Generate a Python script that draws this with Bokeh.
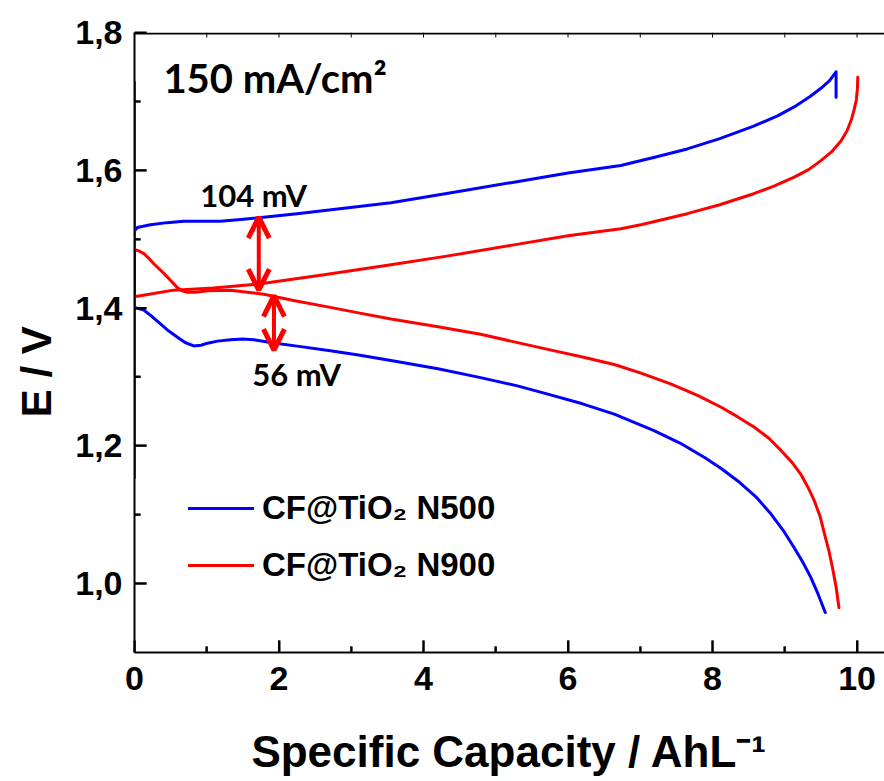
from bokeh.plotting import figure
from bokeh.models import (Range1d, FixedTicker, CustomJSTickFormatter,
                          Label, Legend, LegendItem, Arrow, OpenHead, ColumnDataSource)
from bokeh.embed import file_html
from bokeh.resources import INLINE

# ---------------- data ----------------
n500_charge_x = [0, 0, 0.04, 0.22, 0.45, 0.68, 1.0, 1.19, 1.51, 1.72, 2.25, 2.9, 3.55, 4.3, 5.21,
                 6.0, 6.73, 7.2, 7.65, 8.1, 8.57, 8.9, 9.13, 9.35, 9.50, 9.62, 9.71, 9.71]
n500_charge_y = [1.401, 1.512, 1.517, 1.521, 1.524, 1.526, 1.526, 1.526, 1.529, 1.531, 1.537, 1.545,
                 1.553, 1.566, 1.582, 1.596, 1.607, 1.619, 1.631, 1.646, 1.664, 1.679, 1.692, 1.707,
                 1.719, 1.730, 1.743, 1.706]
n500_dis_x = [0, 0.13, 0.25, 0.36, 0.47, 0.59, 0.70, 0.82, 0.92, 1.01, 1.15, 1.33, 1.50, 1.65, 1.88,
              2.3, 2.71, 3.1, 3.55, 4.2, 4.79, 5.3, 5.72, 6.2, 6.64, 7.19, 7.55, 7.89, 8.12, 8.35,
              8.6, 8.81, 8.98, 9.13, 9.25, 9.36, 9.46, 9.56]
n500_dis_y = [1.401, 1.397, 1.387, 1.377, 1.367, 1.358, 1.350, 1.345, 1.346, 1.349, 1.352, 1.354,
              1.355, 1.354, 1.350, 1.344, 1.338, 1.332, 1.324, 1.312, 1.299, 1.287, 1.275, 1.261,
              1.246, 1.222, 1.204, 1.183, 1.167, 1.149, 1.126, 1.101, 1.077, 1.052, 1.031, 1.009,
              0.985, 0.958]
n900_charge_x = [0, 0, 0.04, 0.54, 1.09, 1.72, 2.6, 3.55, 4.3, 5.21, 6.0, 6.73, 7.01, 7.65, 8.1,
                 8.57, 8.85, 9.13, 9.33, 9.50, 9.65, 9.78, 9.86, 9.92, 9.96, 9.99, 10.005, 10.01]
n900_charge_y = [1.154, 1.417, 1.417, 1.426, 1.429, 1.435, 1.448, 1.463, 1.475, 1.491, 1.505, 1.515,
                 1.521, 1.537, 1.550, 1.566, 1.577, 1.590, 1.601, 1.614, 1.627, 1.643, 1.657, 1.673,
                 1.688, 1.702, 1.718, 1.735]
n900_dis_x = [0, 0, 0.06, 0.13, 0.20, 0.27, 0.41, 0.50, 0.59, 0.66, 0.73, 0.85, 1.01, 1.33, 1.79,
              2.2, 2.71, 3.1, 3.55, 4.2, 4.79, 5.21, 5.72, 6.2, 6.64, 7.0, 7.42, 7.8, 8.12, 8.35,
              8.58, 8.78, 8.95, 9.10, 9.22, 9.32, 9.41, 9.49, 9.55, 9.61, 9.66, 9.71, 9.75]
n900_dis_y = [1.728, 1.485, 1.483, 1.479, 1.472, 1.464, 1.450, 1.440, 1.430, 1.425, 1.423, 1.423,
              1.425, 1.426, 1.420, 1.411, 1.401, 1.393, 1.384, 1.373, 1.362, 1.352, 1.340, 1.329,
              1.318, 1.306, 1.290, 1.273, 1.256, 1.242, 1.227, 1.211, 1.193, 1.176, 1.159, 1.140,
              1.120, 1.097, 1.072, 1.048, 1.023, 0.995, 0.965]

series_names = ["CF@TiO\u2082 N500", "CF@TiO\u2082 N900"]
series_colors = ["#0000FF", "#FF0000"]

arrow_x = [1.72, 1.93]
arrow_top = [1.532, 1.418]
arrow_bottom = [1.426, 1.339]
gap_labels = ["104 mV", "56 mV"]
gap_label_x = [0.91, 1.63]
gap_label_y = [1.5635, 1.304]

x_major_ticks = [0, 2, 4, 6, 8, 10]
x_minor_ticks = [1, 3, 5, 7, 9]
y_major_ticks = [1.0, 1.2, 1.4, 1.6, 1.8]
y_minor_ticks = [1.1, 1.3, 1.5, 1.7]
x_min, x_max = 0.0, 10.38
y_min, y_max = 0.9, 1.8

x_title = "Specific Capacity / AhL\u207b\u00b9"
y_title = "E / V\u00a0\u00a0\u00a0\u00a0\u00a0"
current_label = "150 mA/cm\u00b2"

# ---------------- layout sizes ----------------
W, H = 884, 781
B_LEFT, B_RIGHT, B_TOP, B_BOTTOM = 134, 0, 32, 129
FRAME_W = W - B_LEFT - B_RIGHT
FRAME_H = H - B_TOP - B_BOTTOM
px_x = (x_max - x_min) / FRAME_W   # data units per pixel
px_y = (y_max - y_min) / FRAME_H

p = figure(width=W, height=H, x_range=Range1d(x_min, x_max), y_range=Range1d(y_min, y_max),
           output_backend="svg", toolbar_location=None,
           min_border_left=B_LEFT, min_border_right=B_RIGHT, min_border_top=B_TOP,
           min_border_bottom=B_BOTTOM)
p.outline_line_color = None
p.grid.visible = False
p.background_fill_color = "#FFFFFF"
p.border_fill_color = "#FFFFFF"

AX_FONT = "Liberation Sans"

for ax in (p.xaxis[0], p.yaxis[0]):
    ax.axis_line_width = 2
    ax.axis_line_color = "black"
    ax.major_tick_in = 12
    ax.major_tick_out = 0
    ax.minor_tick_in = 6
    ax.minor_tick_out = 0
    ax.major_tick_line_color = "black"
    ax.minor_tick_line_color = "black"
    ax.major_tick_line_width = 2
    ax.minor_tick_line_width = 2
    ax.major_label_text_font = AX_FONT
    ax.major_label_text_font_style = "bold"
    ax.major_label_text_font_size = "34px"
    ax.major_label_text_color = "black"
    ax.axis_label_text_font = AX_FONT
    ax.axis_label_text_font_style = "bold"
    ax.axis_label_text_color = "black"

p.xaxis[0].ticker = FixedTicker(ticks=x_major_ticks, minor_ticks=x_minor_ticks)
p.xaxis[0].major_label_standoff = 14
p.xaxis[0].axis_label = x_title
p.xaxis[0].axis_label_text_font_size = "44px"
p.xaxis[0].axis_label_standoff = 34

p.yaxis[0].ticker = FixedTicker(ticks=y_major_ticks, minor_ticks=y_minor_ticks)
p.yaxis[0].formatter = CustomJSTickFormatter(code="return tick.toFixed(1).replace('.', ',');")
p.yaxis[0].major_label_standoff = 12
p.yaxis[0].axis_label = y_title
p.yaxis[0].axis_label_text_font_size = "42px"
p.yaxis[0].axis_label_standoff = 12

# top frame line and inward ticks as filled bars, derived from the tick lists and ranges
bar = dict(fill_color="black", line_color=None)
p.quad(left=[x_min], right=[x_max], bottom=[y_max - 2 * px_y], top=[y_max], **bar)
p.quad(left=[t - px_x for t in x_major_ticks], right=[t + px_x for t in x_major_ticks],
       bottom=[y_min] * 6, top=[y_min + 12 * px_y] * 6, **bar)
p.quad(left=[t - px_x for t in x_minor_ticks], right=[t + px_x for t in x_minor_ticks],
       bottom=[y_min] * 5, top=[y_min + 6 * px_y] * 5, **bar)
p.quad(left=[x_min] * 5, right=[x_min + 12 * px_x] * 5,
       bottom=[t - px_y for t in y_major_ticks], top=[t + px_y for t in y_major_ticks], **bar)
p.quad(left=[x_min] * 4, right=[x_min + 6 * px_x] * 4,
       bottom=[t - px_y for t in y_minor_ticks], top=[t + px_y for t in y_minor_ticks], **bar)
top_ticks = x_major_ticks + x_minor_ticks
p.quad(left=[t - 0.5 * px_x for t in top_ticks], right=[t + 0.5 * px_x for t in top_ticks],
       bottom=[y_max - 5 * px_y] * 11, top=[y_max] * 11, **bar)

# ---------------- curves ----------------
lw = 3
b1 = p.line(n500_charge_x, n500_charge_y, line_color=series_colors[0], line_width=lw,
            line_join="round", line_cap="round")
p.line(n500_dis_x, n500_dis_y, line_color=series_colors[0], line_width=lw,
       line_join="round", line_cap="round")
r1 = p.line(n900_charge_x, n900_charge_y, line_color=series_colors[1], line_width=lw,
            line_join="round", line_cap="round")
p.line(n900_dis_x, n900_dis_y, line_color=series_colors[1], line_width=lw,
       line_join="round", line_cap="round")

# ---------------- arrows ----------------
asrc = ColumnDataSource(dict(x=arrow_x, y0=arrow_top, y1=arrow_bottom))
p.add_layout(Arrow(x_start="x", y_start="y0", x_end="x", y_end="y1", source=asrc,
                   line_color="#FF0000", line_width=4,
                   start=OpenHead(size=21, line_color="#FF0000", line_width=5),
                   end=OpenHead(size=21, line_color="#FF0000", line_width=5)))

for t, x, y in zip(gap_labels, gap_label_x, gap_label_y):
    p.add_layout(Label(x=x, y=y, text=t, text_font="Lato", text_font_style="bold",
                       text_font_size="31px", text_color="black", text_baseline="alphabetic"))

p.add_layout(Label(x=0.40, y=1.734, text=current_label, text_font="Lato", text_font_style="bold",
                   text_font_size="40px", text_color="black", text_baseline="alphabetic"))

# ---------------- legend ----------------
legend = Legend(items=[LegendItem(label=series_names[0], renderers=[b1]),
                       LegendItem(label=series_names[1], renderers=[r1])],
                location=(54, 67), border_line_color=None, background_fill_alpha=0,
                padding=0, margin=0, spacing=17, glyph_width=66, glyph_height=40,
                label_height=40, label_standoff=8, label_text_font=AX_FONT,
                label_text_font_style="bold", label_text_font_size="33px",
                label_text_color="black")
p.add_layout(legend, "center")

open("out.html", "w").write(file_html(p, INLINE))
